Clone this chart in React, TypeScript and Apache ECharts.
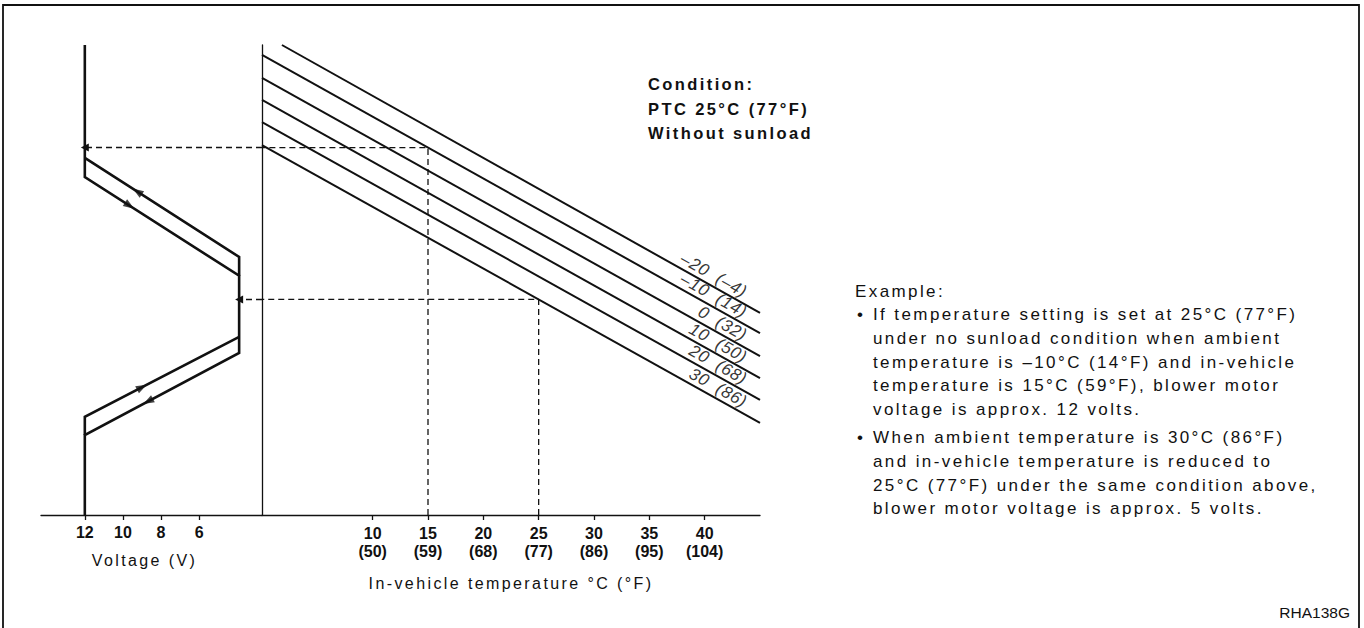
import React, { useEffect, useRef } from 'react';
import * as echarts from 'echarts';

// ---------------- data ----------------
const voltageTicks = [12, 10, 8, 6];
const tempTicksC = [10, 15, 20, 25, 30, 35, 40];
const tempTicksF = [50, 59, 68, 77, 86, 95, 104];

// ambient temperature lines (x: in-vehicle temp °C, y: control level 0..100)
const ambientC = ['–20', '–10', '0', '10', '20', '30'];
const ambientF = ['–4', '14', '32', '50', '68', '86'];
const ambientStartTemp = [1.8, 0, 0, 0, 0, 0];
const ambientStartLevel = [100, 97.9, 93.0, 88.3, 83.6, 78.7];
const ambientEndTemp = [45, 45, 45, 45, 45, 45];
const ambientEndLevel = [43.0, 38.7, 33.8, 29.1, 24.5, 19.6];

// blower voltage hysteresis curve (x: volts, y: control level)
const blowerVolt = [12, 12, 3.9, 3.9, 12, 12];
const blowerLevel = [100, 71.9, 50.9, 34.5, 17.0, 0];
const returnUpperVolt = [12, 3.9, 3.9];
const returnUpperLevel = [76.0, 54.9, 50.9];
const returnLowerVolt = [3.9, 12, 12];
const returnLowerLevel = [37.9, 20.9, 17.0];

// worked examples
const exampleAmbient = [1, 5];
const exampleTemp = [15, 25];
const exampleVolt = [12, 3.9];

const conditionLines = ['Condition:', 'PTC 25°C (77°F)', 'Without sunload'];
const exampleTitle = 'Example:';
const exampleBullets = [
  [
    'If temperature setting is set at 25°C (77°F)',
    'under no sunload condition when ambient',
    'temperature is –10°C (14°F) and in-vehicle',
    'temperature is 15°C (59°F), blower motor',
    'voltage is approx. 12 volts.',
  ],
  [
    'When ambient temperature is 30°C (86°F)',
    'and in-vehicle temperature is reduced to',
    '25°C (77°F) under the same condition above,',
    'blower motor voltage is approx. 5 volts.',
  ],
];
const figureCode = 'RHA138G';

// ---------------- helpers ----------------
const SPACED = 'Arial, "Liberation Sans", sans-serif';
const LABELFONT = 'Helvetica, "Liberation Sans", sans-serif';
const PLAIN = '"Liberation Sans", sans-serif';
const INK = '#111';

function levelAt(i: number, t: number) {
  const t0 = ambientStartTemp[i];
  const t1 = ambientEndTemp[i];
  const u0 = ambientStartLevel[i];
  const u1 = ambientEndLevel[i];
  return u0 + ((u1 - u0) * (t - t0)) / (t1 - t0);
}

function lerp(a: number[], b: number[], t: number) {
  return [a[0] + (b[0] - a[0]) * t, a[1] + (b[1] - a[1]) * t];
}

function buildOption() {
  const series: any[] = [];
  const exampleLevel = exampleAmbient.map((ai, k) => levelAt(ai, exampleTemp[k]));

  // ambient lines
  ambientC.forEach((c, i) => {
    series.push({
      type: 'line',
      name: `${c} (${ambientF[i]})`,
      xAxisIndex: 1,
      yAxisIndex: 1,
      symbol: 'none',
      silent: true,
      lineStyle: { color: INK, width: 2 },
      data: [
        [ambientStartTemp[i], ambientStartLevel[i]],
        [ambientEndTemp[i], ambientEndLevel[i]],
      ],
    });
  });

  // ambient labels
  const labelT = 43.7;
  series.push({
    type: 'scatter',
    xAxisIndex: 1,
    yAxisIndex: 1,
    symbol: 'circle',
    symbolSize: 1,
    silent: true,
    itemStyle: { color: 'rgba(0,0,0,0)' },
    label: {
      show: true,
      position: 'inside',
      align: 'right',
      verticalAlign: 'middle',
      rotate: -29.2,
      fontFamily: LABELFONT,
      fontStyle: 'italic',
      fontSize: 17,
      color: '#000',
      formatter: (p: any) => `${ambientC[p.dataIndex]} (${ambientF[p.dataIndex]})`,
    },
    data: ambientC.map((_, i) => [labelT, levelAt(i, labelT) + 2.5]),
  });

  // example dashed guides (right part)
  exampleTemp.forEach((t, k) => {
    series.push({
      type: 'line',
      xAxisIndex: 1,
      yAxisIndex: 1,
      symbol: 'none',
      silent: true,
      lineStyle: { color: INK, width: 1.3, type: [6, 4] },
      data: [
        [t, 0],
        [t, exampleLevel[k]],
        [0, exampleLevel[k]],
      ],
    });
  });

  // blower curve
  series.push({
    type: 'line',
    xAxisIndex: 0,
    yAxisIndex: 0,
    symbol: 'none',
    silent: true,
    lineStyle: { color: INK, width: 2.6, join: 'miter' },
    data: blowerVolt.map((v, i) => [v, blowerLevel[i]]),
    markLine: {
      silent: true,
      symbol: ['none', 'triangle'],
      symbolSize: 8,
      label: { show: false },
      lineStyle: { color: INK, width: 1.3, type: [6, 4] },
      data: exampleVolt.map((v, k) => [
        { coord: [2.7, exampleLevel[k]] },
        { coord: [v, exampleLevel[k]] },
      ]),
    },
  });
  series.push({
    type: 'line',
    xAxisIndex: 0,
    yAxisIndex: 0,
    symbol: 'none',
    silent: true,
    lineStyle: { color: INK, width: 2.6, join: 'miter' },
    data: returnUpperVolt.map((v, i) => [v, returnUpperLevel[i]]),
  });
  series.push({
    type: 'line',
    xAxisIndex: 0,
    yAxisIndex: 0,
    symbol: 'none',
    silent: true,
    lineStyle: { color: INK, width: 2.6, join: 'miter' },
    data: returnLowerVolt.map((v, i) => [v, returnLowerLevel[i]]),
  });

  // direction arrows on the hysteresis curve
  const bp = blowerVolt.map((v, i) => [v, blowerLevel[i]]);
  const ru = returnUpperVolt.map((v, i) => [v, returnUpperLevel[i]]);
  const rl = returnLowerVolt.map((v, i) => [v, returnLowerLevel[i]]);
  const arrows = [
    { p: lerp(ru[0], ru[1], 0.34), rot: 57 },
    { p: lerp(bp[1], bp[2], 0.29), rot: -123 },
    { p: lerp(rl[0], rl[1], 0.63), rot: -62 },
    { p: lerp(bp[3], bp[4], 0.59), rot: 118 },
  ];
  series.push({
    type: 'scatter',
    xAxisIndex: 0,
    yAxisIndex: 0,
    silent: true,
    symbol: 'triangle',
    symbolSize: [8, 11],
    itemStyle: { color: INK },
    data: arrows.map((a) => ({ value: a.p, symbolRotate: a.rot })),
  });

  const axisLineStyle = { color: INK, width: 1.3 };
  const tickLabelStyle = {
    fontFamily: PLAIN,
    fontWeight: 'bold',
    fontSize: 16,
    color: INK,
  };

  const graphicEls: any[] = [
    {
      type: 'rect',
      silent: true,
      shape: { x: 3, y: 5, width: 1356, height: 700 },
      style: { fill: 'none', stroke: INK, lineWidth: 1.8 },
    },
  ];
  conditionLines.forEach((t, i) => {
    graphicEls.push({
      type: 'text',
      silent: true,
      x: 648,
      y: 84 + i * 24.5,
      style: {
        text: t,
        fill: INK,
        fontFamily: SPACED,
        fontWeight: 'bold',
        fontSize: 16.5,
        textAlign: 'left',
        textVerticalAlign: 'middle',
        align: 'left',
        verticalAlign: 'middle',
      },
    });
  });
  const para = (text: string, x: number, y: number) => ({
    type: 'text',
    silent: true,
    x,
    y,
    style: {
      text,
      fill: INK,
      fontFamily: SPACED,
      fontSize: 17,
      textAlign: 'left',
      textVerticalAlign: 'middle',
      align: 'left',
      verticalAlign: 'middle',
    },
  });
  graphicEls.push(para(exampleTitle, 855, 291));
  let y = 314.5;
  exampleBullets.forEach((lines, b) => {
    if (b > 0) y += 4;
    graphicEls.push(para('•', 857, y));
    lines.forEach((ln) => {
      graphicEls.push(para(ln, 873, y));
      y += 23.8;
    });
  });
  graphicEls.push({
    type: 'text',
    silent: true,
    x: 1350,
    y: 612,
    style: {
      text: figureCode,
      fill: INK,
      fontFamily: PLAIN,
      fontSize: 15.5,
      textAlign: 'right',
      textVerticalAlign: 'middle',
      align: 'right',
      verticalAlign: 'middle',
    },
  });

  return {
    animation: false,
    backgroundColor: '#ffffff',
    grid: [
      { left: 41, top: 45, width: 221, height: 470 },
      { left: 262, top: 45, width: 498, height: 470 },
    ],
    xAxis: [
      {
        gridIndex: 0,
        type: 'value',
        inverse: true,
        min: 2.7,
        max: 14.3,
        name: 'Voltage (V)',
        nameLocation: 'middle',
        nameGap: 37,
        nameTextStyle: { fontFamily: SPACED, fontSize: 16, color: INK, padding: [0, 14, 0, 0] },
        axisLine: { show: true, onZero: false, lineStyle: axisLineStyle },
        axisTick: { show: true, customValues: voltageTicks, length: 5, lineStyle: axisLineStyle },
        axisLabel: { show: true, customValues: voltageTicks, margin: 9, ...tickLabelStyle },
        splitLine: { show: false },
      },
      {
        gridIndex: 1,
        type: 'value',
        min: 0,
        max: 45,
        name: 'In-vehicle temperature °C (°F)',
        nameLocation: 'middle',
        nameGap: 60,
        nameTextStyle: { fontFamily: SPACED, fontSize: 16, color: INK },
        axisLine: { show: true, onZero: false, lineStyle: axisLineStyle },
        axisTick: { show: true, customValues: tempTicksC, length: 5, lineStyle: axisLineStyle },
        axisLabel: {
          show: true,
          customValues: tempTicksC,
          margin: 9,
          lineHeight: 18,
          ...tickLabelStyle,
          formatter: (v: number) => {
            const i = tempTicksC.indexOf(v);
            return i >= 0 ? `${v}\n(${tempTicksF[i]})` : '';
          },
        },
        splitLine: { show: false },
      },
    ],
    yAxis: [
      { gridIndex: 0, type: 'value', min: 0, max: 100, show: false },
      {
        gridIndex: 1,
        type: 'value',
        min: 0,
        max: 100,
        axisLine: { show: true, onZero: false, lineStyle: axisLineStyle },
        axisTick: { show: false },
        axisLabel: { show: false },
        splitLine: { show: false },
      },
    ],
    series,
    graphic: { elements: graphicEls },
  };
}

export default function App() {
  const ref = useRef<HTMLDivElement>(null);
  useEffect(() => {
    if (!ref.current) return;
    const chart = echarts.init(ref.current, undefined, { renderer: 'svg' });
    chart.setOption(buildOption() as any);
    return () => chart.dispose();
  }, []);
  return (
    <>
      <style>
        {'text[style*="Arial"]{letter-spacing:2.4px;}' +
          'text[style*="Helvetica"]{letter-spacing:0.6px;word-spacing:5px;}'}
      </style>
      <div
        ref={ref}
        style={{ position: 'fixed', left: 0, top: 0, width: 1364, height: 628, background: '#fff' }}
      />
    </>
  );
}
